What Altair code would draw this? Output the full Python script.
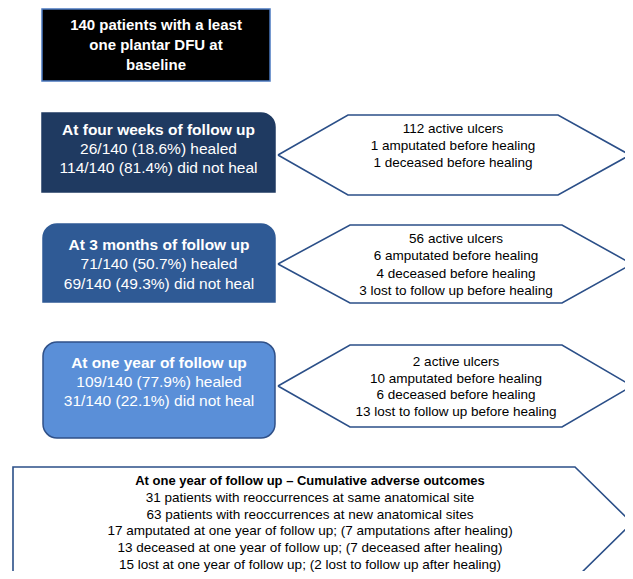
import altair as alt
import pandas as pd

# ---------------- content ----------------
baseline_lines = ["140 patients with a least", "one plantar DFU at", "baseline"]
week4_lines = ["At four weeks of follow up", "26/140 (18.6%) healed", "114/140 (81.4%) did not heal"]
month3_lines = ["At 3 months of follow up", "71/140 (50.7%) healed", "69/140 (49.3%) did not heal"]
year1_lines = ["At one year of follow up", "109/140 (77.9%) healed", "31/140 (22.1%) did not heal"]
week4_outcomes = ["112 active ulcers", "1 amputated before healing", "1 deceased before healing"]
month3_outcomes = ["56 active ulcers", "6 amputated before healing", "4 deceased before healing",
                   "3 lost to follow up before healing"]
year1_outcomes = ["2 active ulcers", "10 amputated before healing", "6 deceased before healing",
                  "13 lost to follow up before healing"]
cumulative_lines = ["At one year of follow up \u2013 Cumulative adverse outcomes",
                    "31 patients with reoccurrences at same anatomical site",
                    "63 patients with reoccurrences at new anatomical sites",
                    "17 amputated at one year of follow up; (7 amputations after healing)",
                    "13 deceased at one year of follow up; (7 deceased after healing)",
                    "15 lost at one year of follow up; (2 lost to follow up after healing)"]

# ---------------- layout (pixel space of the figure) ----------------
FONT = "Liberation Sans"
NAVY = "#2b4f88"

boxes = [
    dict(lines=baseline_lines, x0=42, x1=270, y0=9, y1=81, fill="#000000", stroke="#4a78c0",
         radius={}, tc=45, sp=20, size=15, bold_all=True),
    dict(lines=week4_lines, x0=42, x1=275, y0=113, y1=192, fill="#1f3a61", stroke="#1f3a61",
         radius=dict(cornerRadiusTopRight=14), tc=149, sp=19, size=15.5, bold_all=False),
    dict(lines=month3_lines, x0=43, x1=275, y0=224, y1=302, fill="#2f5a95", stroke="#2f5a95",
         radius=dict(cornerRadiusTopRight=14, cornerRadiusTopLeft=14), tc=264, sp=19.5, size=15.5,
         bold_all=False),
    dict(lines=year1_lines, x0=43, x1=275, y0=342, y1=438, fill="#5a8fd8", stroke="#2f5088",
         radius=dict(cornerRadius=14), tc=382, sp=19, size=15.5, bold_all=False),
]

hexes = [
    dict(lines=week4_outcomes, l=278, r=630, il=348, ir=558, top=115, bot=195, tc=146, sp=17),
    dict(lines=month3_outcomes, l=278, r=632, il=350, ir=562, top=225, bot=303, tc=265, sp=17.5),
    dict(lines=year1_outcomes, l=278, r=632, il=350, ir=562, top=345, bot=427, tc=387, sp=16.8),
]

pent = dict(lines=cumulative_lines, x0=13, xr=575, tip=632, top=467, bot=579, cx=310, tc=523, sp=16.8)

xs = alt.Scale(domain=[8, 625], nice=False, zero=False)
ys = alt.Scale(domain=[8, 571], nice=False, zero=False, reverse=True)

layers = []

# boxes
for b in boxes:
    df = pd.DataFrame([dict(x0=b["x0"], x1=b["x1"], y0=b["y0"], y1=b["y1"])])
    layers.append(
        alt.Chart(df).mark_rect(fill=b["fill"], stroke=b["stroke"], strokeWidth=1.5,
                                clip=True, **b["radius"]).encode(
            x=alt.X("x0:Q", scale=xs, axis=None), x2="x1:Q",
            y=alt.Y("y0:Q", scale=ys, axis=None), y2="y1:Q")
    )

# polygons (hexagons + pentagon)
poly_rows = []
for k, h in enumerate(hexes):
    mid = (h["top"] + h["bot"]) / 2
    pts = [(h["l"], mid), (h["il"], h["top"]), (h["ir"], h["top"]), (h["r"], mid),
           (h["ir"], h["bot"]), (h["il"], h["bot"]), (h["l"], mid)]
    for i, (px, py) in enumerate(pts):
        poly_rows.append(dict(shape=f"hex{k}", i=i, x=px, y=py))
pmid = (pent["top"] + pent["bot"]) / 2
ppts = [(pent["x0"], pent["bot"]), (pent["x0"], pent["top"]), (pent["xr"], pent["top"]),
        (pent["tip"], pmid), (pent["xr"], pent["bot"]), (pent["x0"], pent["bot"])]
for i, (px, py) in enumerate(ppts):
    poly_rows.append(dict(shape="pent", i=i, x=px, y=py))
poly_df = pd.DataFrame(poly_rows)
layers.append(
    alt.Chart(poly_df).mark_line(color=NAVY, strokeWidth=1.6, strokeJoin="miter", clip=True).encode(
        x=alt.X("x:Q", scale=xs, axis=None), y=alt.Y("y:Q", scale=ys, axis=None),
        detail="shape:N", order="i:Q")
)

# text
text_rows = []
for b in boxes:
    n = len(b["lines"])
    cx = (b["x0"] + b["x1"]) / 2
    for j, t in enumerate(b["lines"]):
        text_rows.append(dict(x=cx, y=b["tc"] + (j - (n - 1) / 2) * b["sp"], text=t, color="#ffffff",
                              size=b["size"], bold=(b["bold_all"] or j == 0)))
for h in hexes:
    n = len(h["lines"])
    cx = (h["il"] + h["ir"]) / 2
    for j, t in enumerate(h["lines"]):
        text_rows.append(dict(x=cx, y=h["tc"] + (j - (n - 1) / 2) * h["sp"], text=t, color="#000000",
                              size=13.5, bold=False))
n = len(pent["lines"])
for j, t in enumerate(pent["lines"]):
    text_rows.append(dict(x=pent["cx"], y=pent["tc"] + (j - (n - 1) / 2) * pent["sp"], text=t,
                          color="#000000", size=13 if j == 0 else 13.5, bold=(j == 0)))
text_df = pd.DataFrame(text_rows)

for bold in (True, False):
    sub = text_df[text_df["bold"] == bold]
    layers.append(
        alt.Chart(sub).mark_text(font=FONT, fontWeight="bold" if bold else "normal",
                                 align="center", baseline="middle").encode(
            x=alt.X("x:Q", scale=xs, axis=None), y=alt.Y("y:Q", scale=ys, axis=None),
            text="text:N", color=alt.Color("color:N", scale=None),
            size=alt.Size("size:Q", scale=None))
    )

chart = alt.layer(*layers).properties(width=617, height=563, padding=0, background="white") \
    .configure_view(stroke=None)

chart.save("out.html", embed_options={"renderer": "svg", "actions": False})
